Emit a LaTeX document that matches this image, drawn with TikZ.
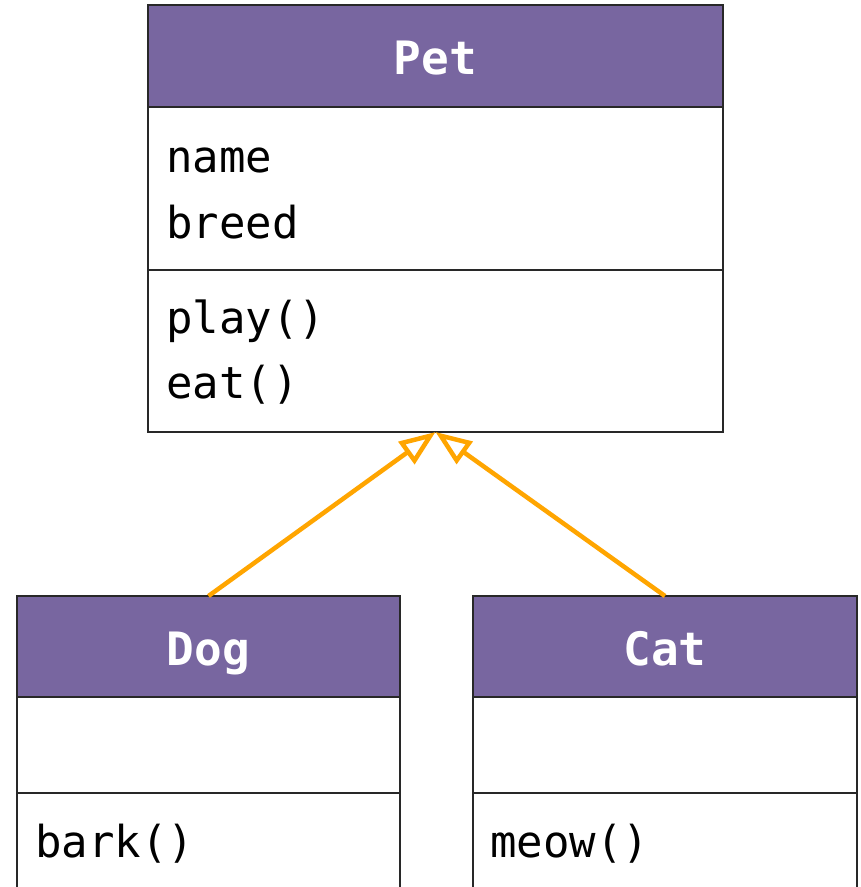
\documentclass[tikz,border=0pt]{standalone}
\usepackage{fontspec}
\setmonofont{DejaVu Sans Mono}
\usetikzlibrary{arrows.meta}
\definecolor{umlhead}{RGB}{120,102,160}
\definecolor{umlline}{RGB}{40,40,40}
\definecolor{inherit}{RGB}{255,165,0}
\tikzset{
  part/.style={draw=umlline, line width=1.5pt, inner sep=0pt, outer sep=0pt, rectangle, anchor=north west},
  headpart/.style={part, fill=umlhead},
  headtext/.style={inner sep=0pt, anchor=base, text=white, font=\fontsize{46}{50}\selectfont\ttfamily\bfseries},
  member/.style={inner sep=0pt, anchor=base west, font=\fontsize{44}{48}\selectfont\ttfamily},
  generalization/.style={draw=inherit, line width=4.5pt, -{Triangle[open, length=36pt, width=27pt]}}
}
\begin{document}
\begin{tikzpicture}[x=1pt,y=-1pt]
  \useasboundingbox (0,0) rectangle (861,887);
  \clip (0,0) rectangle (861,887);
  \fill[white] (0,0) rectangle (861,887);

  % Pet class: header, attributes, operations
  \node[headpart, minimum width=575pt, minimum height=102pt] (pethead) at (148,5) {};
  \node[part, minimum width=575pt, minimum height=163pt] (petattr) at (148,107) {};
  \node[part, minimum width=575pt, minimum height=162pt] (petmeth) at (148,270) {};
  \node[headtext] (pettitle) at (435.5,74) {Pet};
  \node[member] (petname) at (166,172) {name};
  \node[member] (petbreed) at (166,238) {breed};
  \node[member] (petplay) at (166,333) {play()};
  \node[member] (peteat) at (166,398) {eat()};

  % Dog class
  \node[headpart, minimum width=383pt, minimum height=101pt] (doghead) at (17,596) {};
  \node[part, minimum width=383pt, minimum height=96pt] (dogattr) at (17,697) {};
  \node[part, minimum width=383pt, minimum height=110pt] (dogmeth) at (17,793) {};
  \node[headtext] (dogtitle) at (208.5,665) {Dog};
  \node[member] (dogbark) at (35,857) {bark()};

  % Cat class
  \node[headpart, minimum width=384pt, minimum height=101pt] (cathead) at (473,596) {};
  \node[part, minimum width=384pt, minimum height=96pt] (catattr) at (473,697) {};
  \node[part, minimum width=384pt, minimum height=110pt] (catmeth) at (473,793) {};
  \node[headtext] (cattitle) at (665,665) {Cat};
  \node[member] (catmeow) at (490,857) {meow()};

  % Generalization arrows
  \draw[generalization] (doghead.north) -- (petmeth.south);
  \draw[generalization] (cathead.north) -- (petmeth.south);
\end{tikzpicture}
\end{document}
